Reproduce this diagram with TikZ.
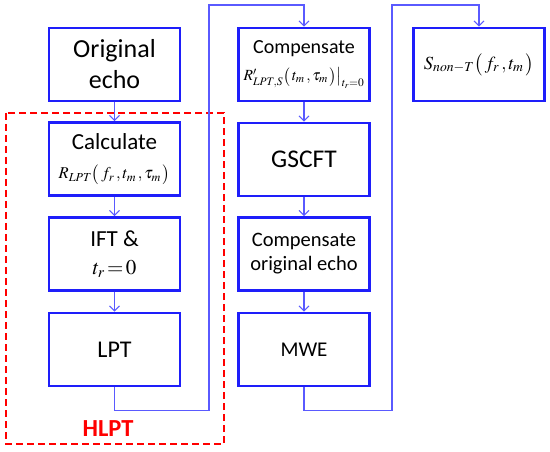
\documentclass[tikz,border=0pt]{standalone}
\usepackage{mathptmx}
\usepackage[no-math]{fontspec}
\setmainfont{Carlito}
\usetikzlibrary{arrows.meta}
\definecolor{boxblue}{RGB}{30,30,250}
\definecolor{lineblue}{RGB}{90,90,255}
\definecolor{hred}{RGB}{255,0,0}
\begin{document}
\begin{tikzpicture}[x=1pt,y=-1pt,
  box/.style={draw=boxblue,line width=2.6pt,minimum width=131pt,minimum height=73pt,align=center,inner sep=2pt},
  conn/.style={draw=lineblue,line width=1.1pt,-{Straight Barb[length=5pt,width=10pt,line width=1.1pt]}},
  hlpt/.style={draw=hred,line width=2pt,dash pattern=on 7pt off 4pt}]
\useasboundingbox (0,0) rectangle (550,452);
% left column
\node[box,font=\fontsize{26}{31}\selectfont] (orig) at (114.5,64.5) {Original\\echo};
\node[box,font=\fontsize{23}{29}\selectfont] (calc) at (114.5,159) {Calculate\\{\fontsize{16.5}{18}\selectfont $R_{LPT}\bigl(\,f_r\,,t_m\,,\tau_m\,\bigr)$}};
\node[box,font=\fontsize{23}{28}\selectfont] (ift) at (114.5,254) {IFT \&\\{\fontsize{21}{24}\selectfont $t_r\!=\!0$}};
\node[box,font=\fontsize{24}{28}\selectfont] (lpt) at (114.5,349.5) {LPT};
% middle column
\node[box,font=\fontsize{20}{27}\selectfont] (comp1) at (304,64.5) {Compensate\\{\fontsize{15.5}{17}\selectfont $R'_{LPT,S}\bigl(\,t_m\,,\tau_m\,\bigr)\bigr|_{t_r=0}$}};
\node[box,font=\fontsize{25.5}{30}\selectfont] (gscft) at (304,159.5) {GSCFT};
\node[box,font=\fontsize{20.5}{24}\selectfont] (comp2) at (304,254) {Compensate\\original echo};
\node[box,font=\fontsize{21}{26}\selectfont] (mwe) at (304,349.5) {MWE};
% right column
\node[box] (snt) at (479,64.5) {{\fontsize{18.5}{22}\selectfont $S_{non-T}\bigl(\,f_r\,,t_m\,\bigr)$}};
% HLPT frame
\draw[hlpt] (6,113) rectangle (224,444);
\node[text=hred,font=\fontsize{24.5}{28}\selectfont\bfseries] (hl) at (108,429) {HLPT};
% connectors
\coordinate (up1) at (209,5);
\coordinate (up2) at (392,5);
\draw[conn] (orig) -- (calc);
\draw[conn] (calc) -- (ift);
\draw[conn] (ift) -- (lpt);
\draw[conn] (lpt.south) -- ++(0,23) -| (up1) -| (comp1.north);
\draw[conn] (comp1) -- (gscft);
\draw[conn] (gscft) -- (comp2);
\draw[conn] (comp2) -- (mwe);
\draw[conn] (mwe.south) -- ++(0,23) -| (up2) -| (snt.north);
\end{tikzpicture}
\end{document}
